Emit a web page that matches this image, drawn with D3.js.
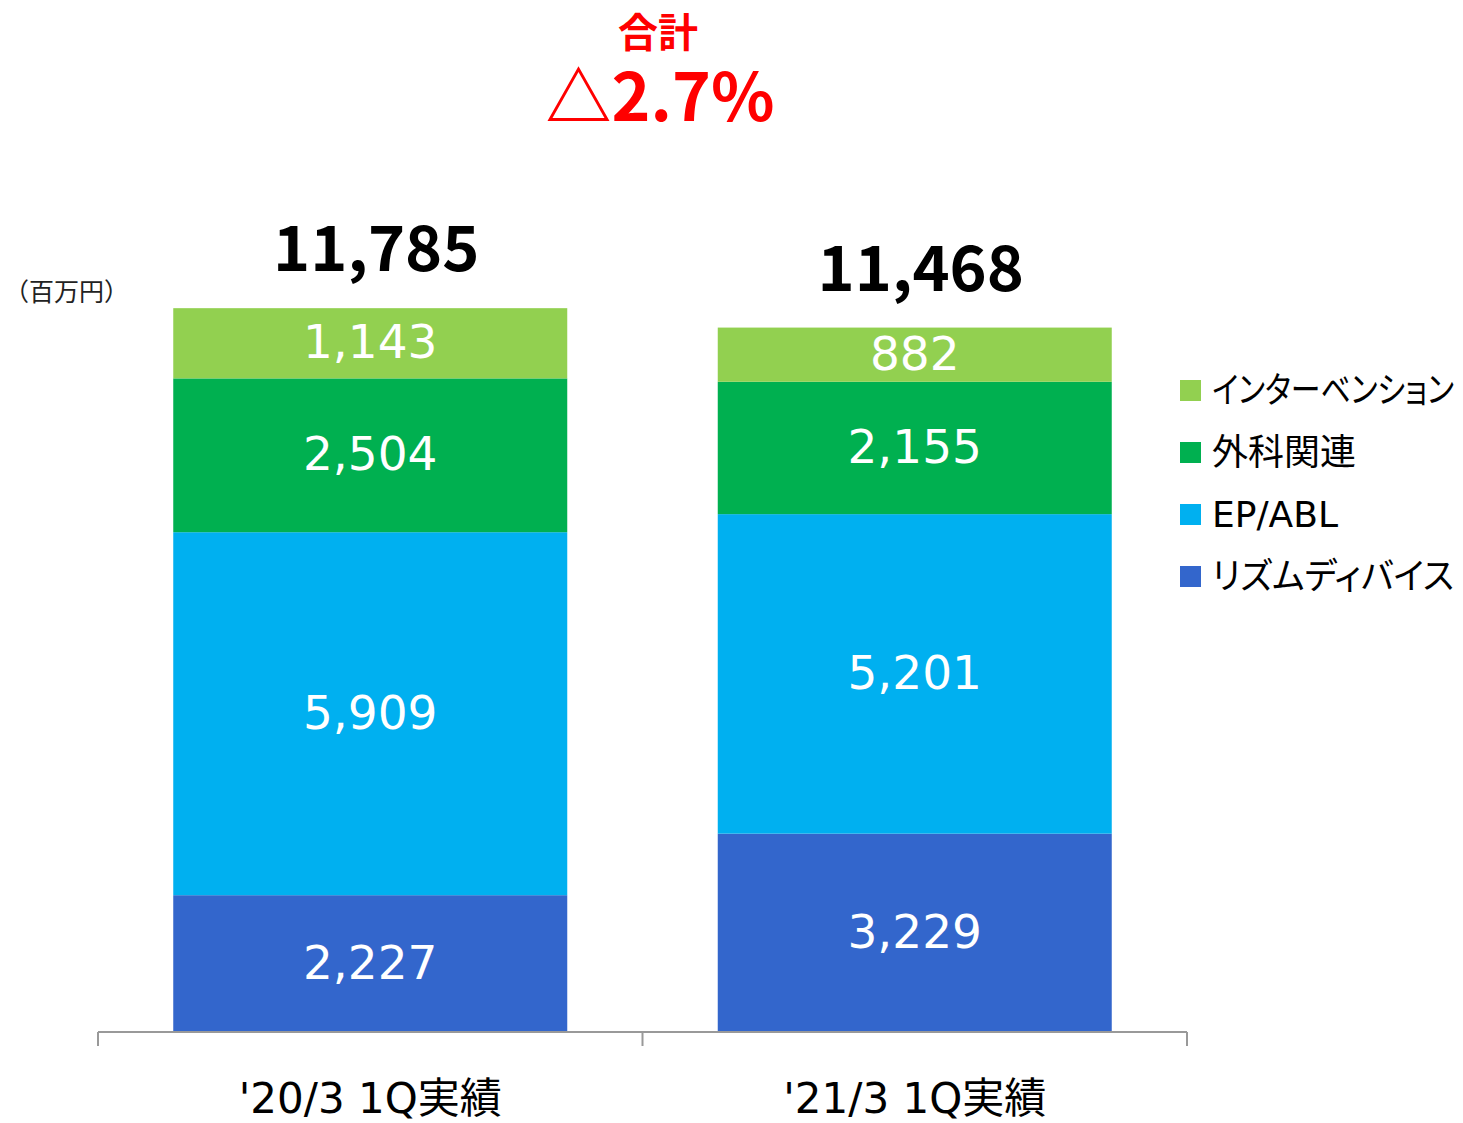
<!DOCTYPE html>
<html>
<head>
<meta charset="utf-8">
<script src="https://cdn.jsdelivr.net/npm/d3@7"></script>
<style>
  body { margin: 0; background: #fff; }
  text { font-family: "Noto Sans CJK JP", "Noto Sans", sans-serif; }
</style>
</head>
<body>
<div id="chart"></div>
<script>
const periods = ["'20/3 1Q実績", "'21/3 1Q実績"];
const seriesNames = ["リズムディバイス", "EP/ABL", "外科関連", "インターベンション"];
const rhythm = [2227, 3229];
const epabl = [5909, 5201];
const surgery = [2504, 2155];
const intervention = [1143, 882];
const totals = [11785, 11468];
const changeLabel = "△2.7%";

const width = 1463, height = 1123;
const colors = ["#3366CC", "#00B0F0", "#00B050", "#92D050"];
const latinFont = "'DejaVu Sans', 'Noto Sans CJK JP', sans-serif";

const svg = d3.select("#chart").append("svg")
  .attr("width", width)
  .attr("height", height);

const data = periods.map((p, i) => ({
  period: p,
  "リズムディバイス": rhythm[i],
  "EP/ABL": epabl[i],
  "外科関連": surgery[i],
  "インターベンション": intervention[i],
  total: totals[i]
}));

const x = d3.scaleBand()
  .domain(periods)
  .range([98, 1187])
  .paddingInner(0)
  .paddingOuter(0);

const y = d3.scaleLinear()
  .domain([0, 12000])
  .range([1032, 1032 - 12000 * 0.06143]);

const color = d3.scaleOrdinal().domain(seriesNames).range(colors);

const barW = 394;
const barX = d => x(d) + (x.bandwidth() - barW) / 2;

const stacked = d3.stack().keys(seriesNames)(data);

// bars
const layers = svg.append("g")
  .selectAll("g")
  .data(stacked)
  .join("g")
  .attr("fill", d => color(d.key));

layers.selectAll("rect")
  .data(d => d)
  .join("rect")
  .attr("x", d => barX(d.data.period))
  .attr("y", d => y(d[1]))
  .attr("width", barW)
  .attr("height", d => y(d[0]) - y(d[1]));

// segment labels
layers.selectAll("text")
  .data(d => d)
  .join("text")
  .attr("x", d => barX(d.data.period) + barW / 2)
  .attr("y", d => (y(d[0]) + y(d[1])) / 2)
  .attr("dy", "0.32em")
  .attr("text-anchor", "middle")
  .attr("fill", "#fff")
  .style("font-family", latinFont)
  .style("font-size", "47px")
  .text(d => d3.format(",")(d[1] - d[0]));

// totals
svg.append("g")
  .selectAll("text")
  .data(data)
  .join("text")
  .attr("x", d => barX(d.period) + barW / 2 + 6)
  .attr("y", d => y(d.total) - 37)
  .attr("text-anchor", "middle")
  .attr("fill", "#000")
  .style("font-size", "63px")
  .style("font-weight", "bold")
  .text(d => d3.format(",")(d.total));

// x axis
const axis = svg.append("g")
  .attr("transform", "translate(0,1032)")
  .call(d3.axisBottom(x).tickSize(0).tickSizeOuter(0));
axis.select(".domain").remove();
axis.selectAll("text")
  .attr("y", 81)
  .attr("dy", 0)
  .attr("fill", "#000")
  .style("font-size", "42px")
  .style("font-family", latinFont);

const axisColor = "#999";
axis.append("line")
  .attr("x1", 98).attr("x2", 1187)
  .attr("y1", 0).attr("y2", 0)
  .attr("stroke", axisColor).attr("stroke-width", 2);
const bounds = [x.range()[0], ...periods.slice(1).map(p => x(p)), x.range()[1]];
axis.selectAll(".bound")
  .data(bounds)
  .join("line")
  .attr("x1", d => d).attr("x2", d => d)
  .attr("y1", 0).attr("y2", 14)
  .attr("stroke", axisColor).attr("stroke-width", 2);

// unit
svg.append("text")
  .attr("x", 4).attr("y", 301)
  .style("font-size", "25px")
  .attr("fill", "#222")
  .text("（百万円）");

// change header
svg.append("text")
  .attr("x", 658).attr("y", 47)
  .attr("text-anchor", "middle")
  .attr("fill", "#FF0000")
  .style("font-size", "40px")
  .style("font-weight", "bold")
  .text("合計");

svg.append("text")
  .attr("x", 660).attr("y", 121)
  .attr("text-anchor", "middle")
  .attr("fill", "#FF0000")
  .style("font-size", "66px")
  .style("font-weight", "bold")
  .text(changeLabel);

// legend
const legendNames = seriesNames.slice().reverse();
const legend = svg.append("g")
  .selectAll("g")
  .data(legendNames)
  .join("g")
  .attr("transform", (d, i) => `translate(1180, ${390 + i * 62})`);

legend.append("rect")
  .attr("x", 0).attr("y", -10)
  .attr("width", 21).attr("height", 21)
  .attr("fill", d => color(d));

legend.append("text")
  .attr("x", 0).attr("y", 0)
  .attr("dy", "0.36em")
  .attr("transform", "translate(32,0)")
  .style("font-size", "36px")
  .style("font-family", latinFont)
  .style("font-feature-settings", "'palt'")
  .attr("fill", "#000")
  .text(d => d)
  .each(function () {
    // squeeze long katakana labels to fit the right edge
    const w = this.getComputedTextLength();
    const maxW = 1454 - 1212;
    if (w > maxW) {
      d3.select(this).attr("transform", `translate(32,0) scale(${maxW / w},1)`);
    }
  });
</script>
</body>
</html>
